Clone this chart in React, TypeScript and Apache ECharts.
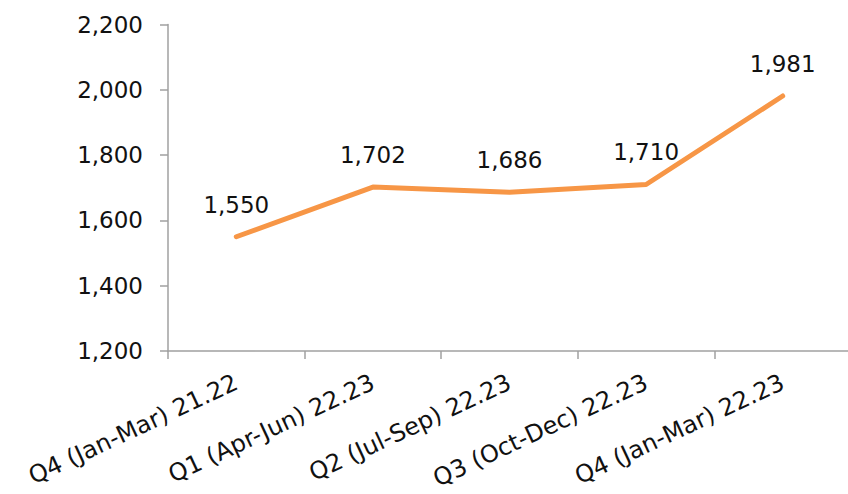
import React, { useEffect, useRef } from "react";
import * as echarts from "echarts";

const categories = [
  "Q4 (Jan-Mar) 21.22",
  "Q1 (Apr-Jun) 22.23",
  "Q2 (Jul-Sep) 22.23",
  "Q3 (Oct-Dec) 22.23",
  "Q4 (Jan-Mar) 22.23",
];
const values = [1550, 1702, 1686, 1710, 1981];
const yMin = 1200;
const yMax = 2200;
const yInterval = 200;

const FONT = "DejaVu Sans";
const AXIS_COLOR = "#A0A0A0";

export default function App() {
  const ref = useRef<HTMLDivElement>(null);
  useEffect(() => {
    const chart = echarts.init(ref.current!, null, { renderer: "svg" });
    chart.setOption({
      animation: false,
      grid: { left: 168, right: -3, top: 24.5, bottom: 143, containLabel: false, outerBoundsMode: "none" },
      xAxis: {
        type: "category",
        data: categories,
        boundaryGap: true,
        axisLine: { show: true, lineStyle: { color: AXIS_COLOR, width: 1.5 } },
        axisTick: { show: true, length: 8, alignWithLabel: false, lineStyle: { color: AXIS_COLOR, width: 1.5 } },
        axisLabel: {
          rotate: 25,
          interval: 0,
          margin: 30,
          fontFamily: FONT,
          fontSize: 24,
          lineHeight: 24,
          color: "#111",
        },
        splitLine: { show: false },
      },
      yAxis: {
        type: "value",
        min: yMin,
        max: yMax,
        interval: yInterval,
        axisLine: { show: true, lineStyle: { color: AXIS_COLOR, width: 1.5 } },
        axisTick: { show: true, length: 8, lineStyle: { color: AXIS_COLOR, width: 1.5 } },
        axisLabel: {
          margin: 25,
          fontFamily: FONT,
          fontSize: 23,
          color: "#111",
          formatter: (v: number) => v.toLocaleString("en-US"),
        },
        splitLine: { show: false },
      },
      series: [
        {
          type: "line",
          data: values,
          symbol: "circle",
          symbolSize: 1,
          showSymbol: true,
          itemStyle: { color: "rgba(0,0,0,0)" },
          lineStyle: { color: "#F79646", width: 5, cap: "round", join: "round" },
          label: {
            show: true,
            position: "top",
            distance: 20,
            fontFamily: FONT,
            fontSize: 23,
            color: "#111",
            formatter: (p: any) => Number(p.value).toLocaleString("en-US"),
          },
        },
      ],
    });
    return () => chart.dispose();
  }, []);
  return <div ref={ref} style={{ width: 848, height: 494, position: "absolute", left: 0, top: 0 }} />;
}
